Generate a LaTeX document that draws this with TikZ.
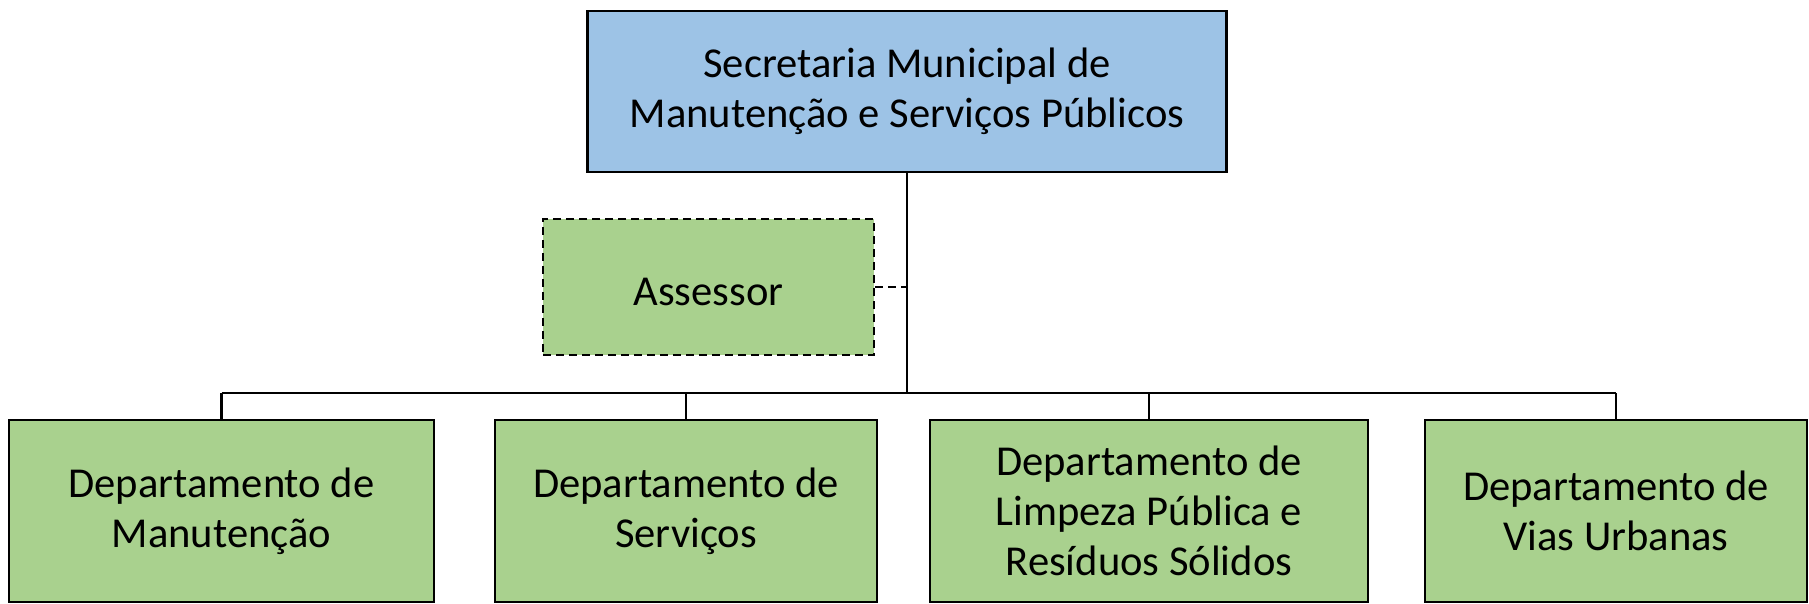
\documentclass[tikz,border=0pt]{standalone}
\usepackage{fontspec}
\setmainfont{Carlito}
\usetikzlibrary{calc}
\definecolor{chefeazul}{HTML}{9DC3E6}
\definecolor{deptoverde}{HTML}{A9D18E}
\begin{document}
\begin{tikzpicture}[x=0.5pt,y=-0.5pt]
    \tikzstyle{caixa}=[rectangle,draw=black,line width=1.1pt,align=center,inner sep=0pt,
                       execute at begin node={\rule{0pt}{18.5pt}},font=\fontsize{21.3}{25}\selectfont]
    \tikzstyle{chefe}=[caixa,fill=chefeazul,minimum width=319.5pt,minimum height=80.5pt]
    \tikzstyle{depto}=[caixa,fill=deptoverde,minimum height=91pt]
    \tikzstyle{ligacao}=[line width=1.1pt]
    \useasboundingbox (0,0) rectangle (1809,604);

    \node[chefe] (sec) at (907,91.5) {Secretaria Municipal de\\Manutenção e Serviços Públicos};
    \node[depto,dash pattern=on 4pt off 2.5pt,minimum width=165.5pt,minimum height=68pt]
        (ass) at (708.5,287) {Assessor};

    \node[depto,minimum width=212.5pt] (dep1) at (221.5,511) {Departamento de\\Manutenção};
    \node[depto,minimum width=191pt]   (dep2) at (686,511)   {Departamento de\\Serviços};
    \node[depto,minimum width=219pt]   (dep3) at (1149,511)  {Departamento de\\Limpeza Pública e\\Resíduos Sólidos};
    \node[depto,minimum width=191pt]   (dep4) at (1616,511)  {Departamento de\\Vias Urbanas};

    \coordinate (bus) at (907,393);
    \draw[ligacao] (sec.south) -- (bus);
    \draw[ligacao] (dep1.north |- bus) -- (dep4.north |- bus);
    \foreach \i in {1,...,4}
        \draw[ligacao] (dep\i.north) -- (dep\i.north |- bus);
    \draw[ligacao,dash pattern=on 4pt off 2.5pt] (ass.east) -- (ass.east -| sec.south);

\end{tikzpicture}
\end{document}
